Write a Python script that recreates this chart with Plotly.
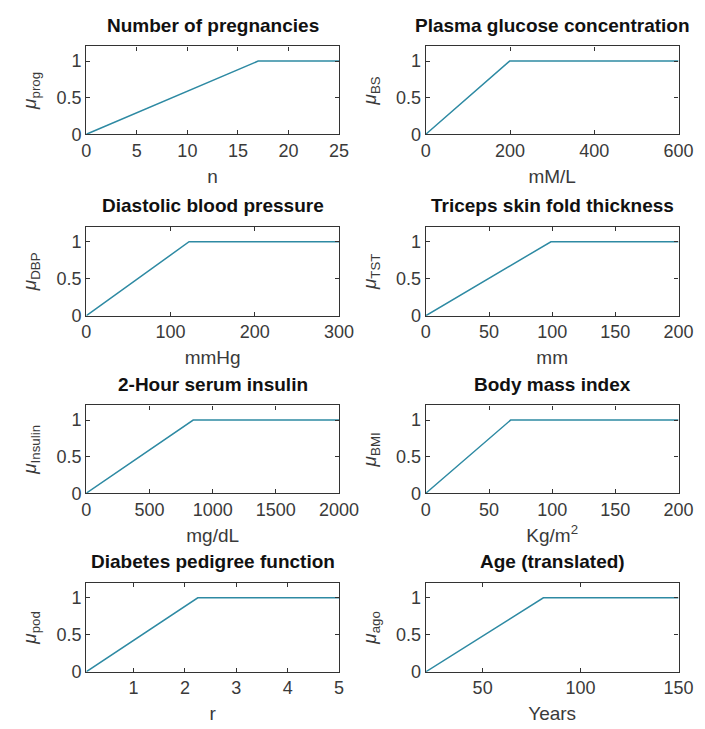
import plotly.graph_objects as go

titles = ["Number of pregnancies", "Plasma glucose concentration",
          "Diastolic blood pressure", "Triceps skin fold thickness",
          "2-Hour serum insulin", "Body mass index",
          "Diabetes pedigree function", "Age (translated)"]
ylabels = ["prog", "BS", "DBP", "TST", "Insulin", "BMI", "pod", "ago"]
xlabels = ["n", "mM/L", "mmHg", "mm", "mg/dL", "Kg/m<sup>2</sup>", "r", "Years"]
x_start = [0, 0, 0, 0, 0, 0, 0.08, 21]
x_peak = [17, 199, 122, 99, 846, 67.1, 2.25, 81]
x_end = [25, 600, 300, 200, 2000, 200, 5, 150]
mu_vals = [0, 1, 1]
xticks = [[0, 5, 10, 15, 20, 25], [0, 200, 400, 600], [0, 100, 200, 300],
          [0, 50, 100, 150, 200], [0, 500, 1000, 1500, 2000],
          [0, 50, 100, 150, 200], [1, 2, 3, 4, 5], [50, 100, 150]]
yticks = [0, 0.5, 1]

W, H = 705, 729
col_px = [(76, 338), (428, 690)]
row_px = [(39, 128), (222, 312), (403, 492), (583, 673)]

FONT = "Liberation Sans, Arial, sans-serif"
TXT = "#3a3a3a"
fig = go.Figure()
for i in range(8):
    r, c = divmod(i, 2)
    n = i + 1
    xa = "x" if n == 1 else f"x{n}"
    ya = "y" if n == 1 else f"y{n}"
    fig.add_trace(go.Scatter(
        x=[x_start[i], x_peak[i], x_end[i]], y=mu_vals, mode="lines",
        line=dict(color="#2e8aa3", width=1.5), xaxis=xa, yaxis=ya,
        showlegend=False, hoverinfo="skip"))
    x0, x1 = col_px[c]
    y0, y1 = row_px[r]
    axstyle = dict(showline=True, linecolor="#333333", linewidth=1.2, mirror="ticks",
                   ticks="inside", ticklen=4, tickcolor="#333333",
                   showgrid=False, zeroline=False,
                   tickfont=dict(family=FONT, size=18, color=TXT))
    fig.layout[("xaxis" if n == 1 else f"xaxis{n}")] = dict(
        domain=[x0 / W, x1 / W], anchor=ya,
        range=[x_start[i], x_end[i]], tickmode="array", tickvals=xticks[i],
        title=dict(text=xlabels[i], font=dict(family=FONT, size=19, color=TXT), standoff=9),
        **axstyle)
    fig.layout[("yaxis" if n == 1 else f"yaxis{n}")] = dict(
        domain=[1 - y1 / H, 1 - y0 / H], anchor=xa,
        range=[0, 1.2], tickmode="array", tickvals=yticks, ticktext=["0", "0.5", "1"],
        title=dict(text=f"<i>μ</i><sub>{ylabels[i]}</sub>", font=dict(family=FONT, size=19, color=TXT), standoff=14),
        **axstyle)
    fig.add_annotation(text=f"<b>{titles[i]}</b>", xref="paper", yref="paper",
                       x=(x0 + x1) / 2 / W, y=1 - (y0 - 9) / H, xanchor="center", yanchor="bottom",
                       showarrow=False, font=dict(family=FONT, size=19, color="#111111"))

fig.update_layout(width=W, height=H, margin=dict(l=0, r=0, t=0, b=0),
                  paper_bgcolor="white", plot_bgcolor="white")
fig.write_html("out.html")
